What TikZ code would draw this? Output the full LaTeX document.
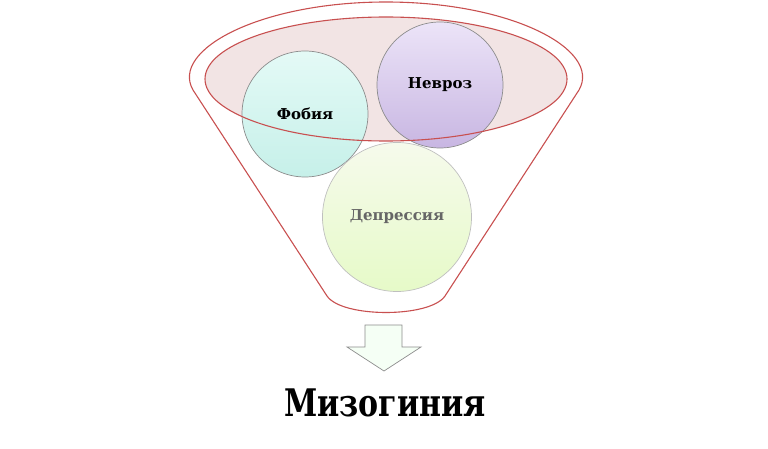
\documentclass[tikz,border=0pt]{standalone}
\usepackage{fontspec}
\setmainfont{DejaVu Serif}
\newfontfamily\titlefont[FakeStretch=0.79]{DejaVu Serif}
\usepackage{tikz}
\usetikzlibrary{positioning,calc,shadings}

\definecolor{funnelred}{RGB}{200,80,80}
\definecolor{bowlfill}{RGB}{242,228,228}
\definecolor{ringgray}{RGB}{140,140,140}

\begin{document}
\begin{tikzpicture}[
    x=1pt, y=-1pt,
    bubble/.style={circle, draw=ringgray, line width=0.7pt, inner sep=0pt, font=\bfseries\fontsize{15}{17}\selectfont},
    funnel/.style={draw=funnelred, line width=1.1pt},
    arrowbox/.style={draw=ringgray, fill=green!4, line width=0.7pt}
]
    \useasboundingbox (0,0) rectangle (768,449);

    % funnel outline
    \draw[funnel] (193,90) .. controls (170,50) and (260,2) .. (386,2)
        .. controls (512,2) and (602,50) .. (579,90)
        -- (445,296) .. controls (430,318) and (342,318) .. (327,296) -- cycle;

    % inner bowl
    \fill[bowlfill] (386,79) ellipse (181 and 62);

    % circles
    \node[bubble, minimum size=126, top color={rgb,255:red,228;green,250;blue,246}, bottom color={rgb,255:red,198;green,240;blue,233}] (fobia) at (305,114) {Фобия};
    \node[bubble, minimum size=126, top color={rgb,255:red,236;green,228;blue,248}, bottom color={rgb,255:red,200;green,182;blue,226}] (nevroz) at (440,85) {Невроз};
    \node[bubble, minimum size=149, draw=black!25, text=black!60, top color={rgb,255:red,246;green,250;blue,236}, bottom color={rgb,255:red,230;green,250;blue,200}] (depr) at (397,217) {Депрессия};

    \draw[funnel] (386,79) ellipse (181 and 62);

    % arrow down
    \draw[arrowbox] (365,325) -- (402,325) -- (402,347) -- (421,347)
        -- (384,371) -- (347,347) -- (365,347) -- cycle;

    \node[font=\titlefont\bfseries\fontsize{38}{42}\selectfont] (miso) at (385,403) {Мизогиния};
\end{tikzpicture}
\end{document}
